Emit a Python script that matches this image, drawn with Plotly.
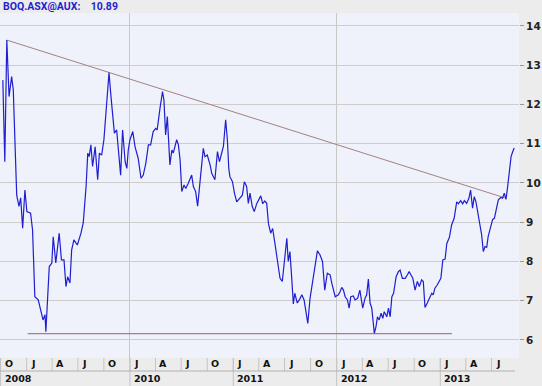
import plotly.graph_objects as go

# ---- data (weekly closes) ----
dates = [
"2008-10-09","2008-10-16","2008-10-23","2008-10-31","2008-11-09","2008-11-15","2008-11-17","2008-11-27",
"2008-12-05","2008-12-11","2008-12-18","2008-12-26","2009-01-02","2009-01-15","2009-01-22","2009-01-30",
"2009-02-11","2009-02-23","2009-02-28","2009-03-07","2009-03-10","2009-03-22","2009-03-31","2009-04-05",
"2009-04-14","2009-04-26","2009-05-04","2009-05-13","2009-05-20","2009-05-26","2009-06-03","2009-06-09",
"2009-06-17","2009-06-29","2009-07-12","2009-07-20","2009-07-30","2009-08-05","2009-08-10","2009-08-16",
"2009-08-22","2009-08-31","2009-09-09","2009-09-15","2009-09-23","2009-10-01","2009-10-08","2009-10-19",
"2009-10-26","2009-11-07","2009-11-15","2009-11-23","2009-11-29","2009-12-06","2009-12-15","2009-12-21",
"2009-12-26","2010-01-01","2010-01-11","2010-01-19","2010-01-30","2010-02-09","2010-02-17","2010-02-26",
"2010-03-07","2010-03-15","2010-03-24","2010-04-02","2010-04-07","2010-04-17","2010-04-26","2010-05-01",
"2010-05-07","2010-05-13","2010-05-22","2010-05-29","2010-06-03","2010-06-15","2010-06-21","2010-06-27",
"2010-07-03","2010-07-11","2010-07-17","2010-07-26","2010-08-07","2010-08-13","2010-08-21","2010-08-28",
"2010-09-05","2010-09-11","2010-09-17","2010-09-23","2010-10-01","2010-10-11","2010-10-17","2010-10-28",
"2010-11-06","2010-11-13","2010-11-21","2010-11-27","2010-12-05","2010-12-11","2010-12-16","2010-12-20",
"2010-12-29","2011-01-05","2011-01-13","2011-01-25","2011-02-02","2011-02-09","2011-02-17","2011-02-23",
"2011-03-01","2011-03-09","2011-03-16","2011-03-25","2011-03-31","2011-04-08","2011-04-15","2011-04-22",
"2011-04-29","2011-05-05","2011-05-13","2011-05-20","2011-05-28","2011-06-05","2011-06-15","2011-06-23",
"2011-06-29","2011-07-09","2011-07-14","2011-07-20","2011-07-26","2011-08-01","2011-08-06","2011-08-15",
"2011-08-25","2011-08-31","2011-09-08","2011-09-14","2011-09-21","2011-09-29","2011-10-09","2011-10-17",
"2011-10-25","2011-11-03","2011-11-12","2011-11-20","2011-11-29","2011-12-09","2011-12-15","2011-12-27",
"2012-01-07","2012-01-13","2012-01-19","2012-01-25","2012-01-31","2012-02-08","2012-02-14","2012-02-20",
"2012-02-29","2012-03-06","2012-03-15","2012-03-23","2012-04-02","2012-04-10","2012-04-16","2012-04-22",
"2012-04-28","2012-05-04","2012-05-07","2012-05-13","2012-05-19","2012-05-24","2012-05-30","2012-06-06",
"2012-06-12","2012-06-17","2012-06-26","2012-07-02","2012-07-08","2012-07-14","2012-07-20","2012-07-29",
"2012-08-06","2012-08-12","2012-08-20","2012-08-30","2012-09-07","2012-09-13","2012-09-19","2012-09-26",
"2012-10-04","2012-10-12","2012-10-19","2012-10-27","2012-11-02","2012-11-08","2012-11-16","2012-11-23",
"2012-12-02","2012-12-07","2012-12-13","2012-12-21","2012-12-28","2013-01-03","2013-01-10","2013-01-18",
"2013-01-24","2013-02-02","2013-02-10","2013-02-19","2013-02-28","2013-03-06","2013-03-14","2013-03-21",
"2013-03-27","2013-04-04","2013-04-12","2013-04-18","2013-04-25","2013-05-01","2013-05-07","2013-05-15",
"2013-05-21","2013-05-27","2013-06-02","2013-06-08","2013-06-14","2013-06-19","2013-06-25","2013-07-05",
"2013-07-11","2013-07-19","2013-07-25","2013-08-03","2013-08-09","2013-08-15","2013-08-21","2013-08-27",
"2013-09-02","2013-09-08","2013-09-14","2013-09-19",
]
prices = [
12.62,10.54,13.64,12.20,12.71,12.37,11.90,9.69,
9.40,9.62,8.85,9.82,9.27,9.23,8.80,7.10,
7.02,6.64,6.51,6.64,6.21,7.87,7.96,8.63,
7.96,8.72,8.04,8.04,7.36,7.61,7.45,8.29,
8.55,8.42,8.72,8.98,9.91,10.76,10.67,10.97,
10.42,10.92,10.08,10.76,10.71,11.10,11.78,12.81,
12.20,11.27,11.35,10.67,10.20,11.35,10.54,10.37,
10.84,11.10,11.31,10.92,10.63,10.12,10.20,10.50,
10.97,10.97,11.31,11.39,11.35,11.90,12.33,12.11,
11.22,11.69,10.46,10.84,10.76,11.10,10.97,10.59,
9.78,9.95,9.86,9.99,10.20,9.91,9.78,9.41,
10.08,10.37,10.88,10.67,10.71,10.46,10.24,10.08,
10.80,10.54,10.80,10.93,11.61,11.10,10.37,10.16,
10.03,9.74,9.52,9.61,9.69,10.03,9.91,9.48,
9.74,9.40,9.27,9.48,9.57,9.67,9.47,9.54,
9.48,8.97,8.72,8.84,8.46,8.04,7.57,7.49,
7.95,8.59,8.00,8.25,7.61,6.92,7.19,6.94,
7.06,7.15,7.02,6.72,6.42,7.06,7.53,7.91,
8.27,8.17,8.00,7.27,7.70,7.66,7.44,7.10,
7.15,7.23,7.34,7.27,7.10,7.02,6.81,7.10,
7.12,7.02,7.06,7.27,6.81,7.06,7.15,7.55,
6.94,6.81,6.51,6.17,6.34,6.59,6.51,6.68,
6.55,6.72,6.59,6.81,6.59,7.10,7.19,7.61,
7.74,7.78,7.57,7.57,7.66,7.74,7.66,7.57,
7.27,7.49,7.36,7.53,7.49,6.83,6.94,7.06,
7.19,7.15,7.32,7.40,7.49,7.57,8.04,8.06,
8.46,8.61,8.93,9.10,9.52,9.47,9.55,9.47,
9.55,9.48,9.61,9.82,9.36,9.65,9.52,9.14,
8.97,8.68,8.25,8.38,8.36,8.63,8.80,9.07,
9.10,9.40,9.57,9.63,9.61,9.74,9.58,9.91,
10.29,10.67,10.80,10.89,
]

# trend lines
resist_dates = ["2008-10-23", "2013-08-17"]
resist_values = [13.64, 9.62]
support_dates = ["2009-01-05", "2013-02-11"]
support_values = [6.16, 6.16]

# axis labels
quarter_dates = ["2008-10-01","2009-01-01","2009-04-01","2009-07-01","2009-10-01",
                 "2010-01-01","2010-04-01","2010-07-01","2010-10-01",
                 "2011-01-01","2011-04-01","2011-07-01","2011-10-01",
                 "2012-01-01","2012-04-01","2012-07-01","2012-10-01",
                 "2013-01-01","2013-04-01","2013-07-01"]
quarter_labels = ["O","J","A","J","O","J","A","J","O","J","A","J","O","J","A","J","O","J","A","J"]
year_dates = ["2008-10-01","2010-01-01","2011-01-01","2012-01-01","2013-01-01"]
year_labels = ["2008","2010","2011","2012","2013"]
grid_dates = ["2010-01-01","2012-01-01"]
y_ticks = [6, 7, 8, 9, 10, 11, 12, 13, 14]

title_symbol = "BOQ.ASX@AUX:"
last_price = prices[-1]

W, H = 542, 386
ML, MR, MT, MB = 0, 23, 13, 28
ph = H - MT - MB

FONT = "DejaVu Sans"
BLUE = "#1f1fcf"
TREND = "#a58080"
SEP = "#c4c4c4"

fig = go.Figure()
fig.add_trace(go.Scatter(x=resist_dates, y=resist_values, mode="lines",
                         line=dict(color=TREND, width=1), hoverinfo="skip"))
fig.add_trace(go.Scatter(x=support_dates, y=support_values, mode="lines",
                         line=dict(color=TREND, width=1.3), hoverinfo="skip"))
fig.add_trace(go.Scatter(x=dates, y=prices, mode="lines",
                         line=dict(color=BLUE, width=1.2)))

def py(pix):  # pixel offset below plot bottom -> paper y
    return -pix / ph

ann = []
shapes = []
for d, lab in zip(quarter_dates, quarter_labels):
    ann.append(dict(x=d, y=py(6), xref="x", yref="paper", text="<b>%s</b>" % lab,
                    showarrow=False, xanchor="left", yanchor="middle", xshift=2,
                    font=dict(family=FONT, size=9.5, color="#111")))
    shapes.append(dict(type="line", xref="x", yref="paper", x0=d, x1=d,
                       y0=0, y1=py(13), line=dict(color=SEP, width=1)))
for d, lab in zip(year_dates, year_labels):
    ann.append(dict(x=d, y=py(20.5), xref="x", yref="paper", text="<b>%s</b>" % lab,
                    showarrow=False, xanchor="left", yanchor="middle", xshift=2,
                    font=dict(family=FONT, size=9.5, color="#111")))
    shapes.append(dict(type="line", xref="x", yref="paper", x0=d, x1=d,
                       y0=0, y1=py(28), line=dict(color=SEP, width=1)))
shapes.append(dict(type="line", xref="paper", yref="paper", x0=0, x1=515 / 519,
                   y0=py(13), y1=py(13), line=dict(color="#b0b0b0", width=1)))

ann.append(dict(x=1 / 519, y=1 + 6.5 / ph, xref="paper", yref="paper",
                text="<b>%s&nbsp;&nbsp;&nbsp;&nbsp;%.2f</b>" % (title_symbol, last_price),
                showarrow=False, xanchor="left", yanchor="middle",
                font=dict(family="Roboto", size=10.5, color=BLUE)))

fig.update_layout(
    width=W, height=H,
    margin=dict(l=ML, r=MR, t=MT, b=MB, pad=0),
    paper_bgcolor="#ececec",
    plot_bgcolor="#eff1fb",
    showlegend=False,
    annotations=ann,
    shapes=shapes,
    xaxis=dict(type="date", range=["2008-09-29", "2013-10-06"],
               tickvals=grid_dates, showticklabels=False, ticks="",
               showgrid=True, gridcolor="#c8c8c8", gridwidth=1,
               zeroline=False, showline=False, fixedrange=True),
    yaxis=dict(side="right", range=[5.54, 14.33], tickvals=y_ticks,
               ticktext=["<b>%d</b>" % v for v in y_ticks],
               ticks="outside", ticklen=4, tickcolor="#999", tickwidth=1,
               showgrid=True, gridcolor="#cdcdcd", gridwidth=1,
               zeroline=False, showline=False,
               tickfont=dict(family=FONT, size=10.5, color="#222")),
)

fig.write_html("out.html", config={"displayModeBar": False},
               post_script="document.body.style.margin='0';document.body.style.overflow='hidden';")
